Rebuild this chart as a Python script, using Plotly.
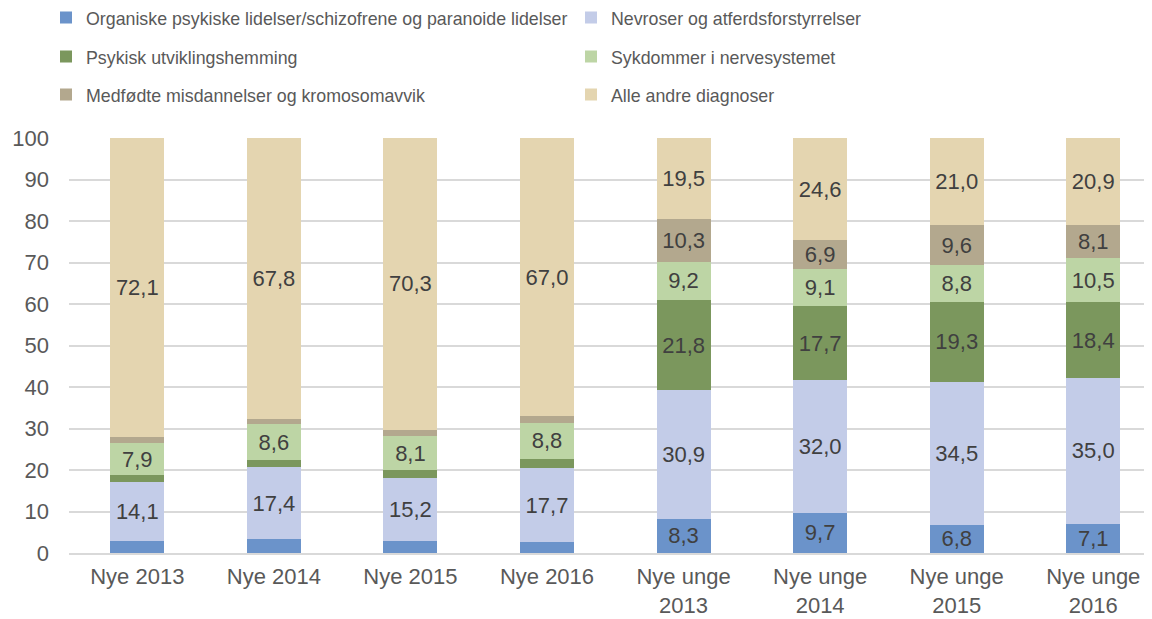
import plotly.graph_objects as go

categories = ["Nye 2013", "Nye 2014", "Nye 2015", "Nye 2016",
              "Nye unge<br>2013", "Nye unge<br>2014", "Nye unge<br>2015", "Nye unge<br>2016"]

series_names = [
    "Organiske psykiske lidelser/schizofrene og paranoide lidelser",
    "Nevroser og atferdsforstyrrelser",
    "Psykisk utviklingshemming",
    "Sykdommer i nervesystemet",
    "Medfødte misdannelser og kromosomavvik",
    "Alle andre diagnoser",
]

organiske = [3.0, 3.3, 2.8, 2.7, 8.3, 9.7, 6.8, 7.1]
nevroser = [14.1, 17.4, 15.2, 17.7, 30.9, 32.0, 34.5, 35.0]
psykisk = [1.6, 1.7, 2.0, 2.2, 21.8, 17.7, 19.3, 18.4]
sykdommer = [7.9, 8.6, 8.1, 8.8, 9.2, 9.1, 8.8, 10.5]
medfodte = [1.3, 1.2, 1.6, 1.6, 10.3, 6.9, 9.6, 8.1]
andre = [72.1, 67.8, 70.3, 67.0, 19.5, 24.6, 21.0, 20.9]

series_values = [organiske, nevroser, psykisk, sykdommer, medfodte, andre]
colors = ["#6B93CA", "#C3CCE8", "#7B975D", "#BDD5A5", "#B3A88E", "#E4D5B0"]
legend_ids = ["legend", "legend", "legend2", "legend2", "legend3", "legend3"]

FONT = "Liberation Sans, Arial, sans-serif"
W, H = 1144, 611

fig = go.Figure()
for name, vals, col, lg in zip(series_names, series_values, colors, legend_ids):
    texts = [f"{v:.1f}".replace(".", ",") if v >= 5 else "" for v in vals]
    fig.add_trace(go.Bar(
        name=name, x=categories, y=vals, marker=dict(color=col, line=dict(width=0)),
        text=texts, textposition="inside", insidetextanchor="middle", textangle=0,
        textfont=dict(size=22, color="#404040", family=FONT),
        legend=lg, hoverinfo="skip",
    ))

legend_common = dict(
    orientation="h", xref="container", yref="container", x=38 / W,
    xanchor="left", yanchor="middle", font=dict(size=17.8, color="#595959", family=FONT),
    entrywidth=480, entrywidthmode="pixels", bgcolor="rgba(0,0,0,0)", traceorder="normal",
)

fig.update_layout(
    barmode="stack", bargap=0.605,
    width=W, height=H,
    margin=dict(l=61, r=0, t=130, b=66),
    plot_bgcolor="white", paper_bgcolor="white",
    font=dict(family=FONT, color="#595959"),
    uniformtext=dict(minsize=22, mode="show"),
    legend=dict(**legend_common, y=1 - 10 / H),
    legend2=dict(**legend_common, y=1 - 49 / H),
    legend3=dict(**legend_common, y=1 - 87 / H),
    xaxis=dict(range=[-0.5, 7.43], showgrid=False, showline=True, linecolor="#D9D9D9",
               linewidth=2, ticks="", ticklabelstandoff=3, automargin=False,
               tickfont=dict(size=22, color="#595959", family=FONT)),
    yaxis=dict(range=[0, 100], dtick=10, showgrid=True, gridcolor="#D9D9D9", gridwidth=2,
               zeroline=False, showline=False, ticks="", ticklabelstandoff=19, automargin=False,
               tickfont=dict(size=22, color="#595959", family=FONT)),
)

fig.write_html("out.html")
